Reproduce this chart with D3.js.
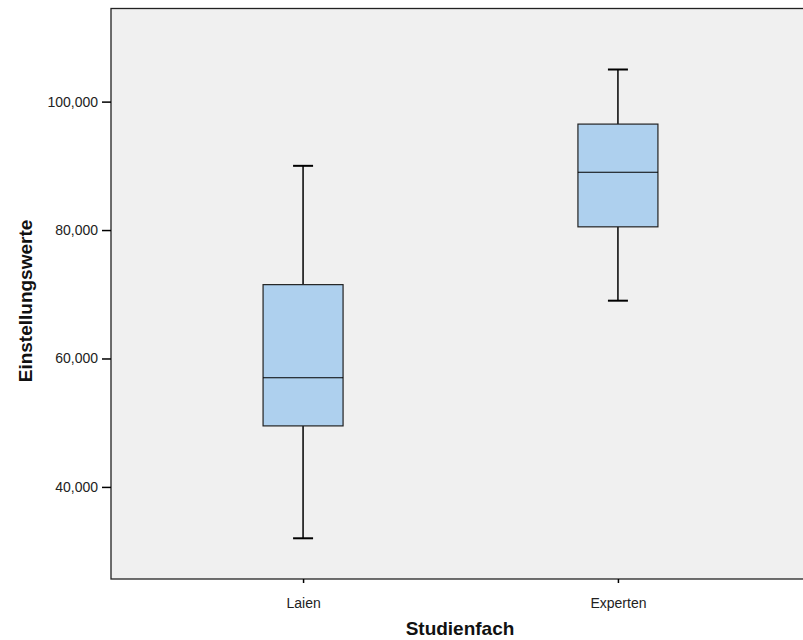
<!DOCTYPE html>
<html><head><meta charset="utf-8">
<script src="https://cdn.jsdelivr.net/npm/d3@7"></script>
<style>body{margin:0;background:#fff}svg{display:block}text{font-family:"Liberation Sans",Arial,sans-serif}</style>
</head><body>
<script>
const categories = ["Laien", "Experten"];
const whiskerLow = [32, 69];
const q1 = [49.5, 80.5];
const median = [57, 89];
const q3 = [71.5, 96.5];
const whiskerHigh = [90, 105];
const yTicks = [40, 60, 80, 100];
const yTickLabels = ["40,000", "60,000", "80,000", "100,000"];
const yTitle = "Einstellungswerte";
const xTitle = "Studienfach";

(function () {
const W = 803, H = 640;
const pLeft = 111, pTop = 8.5, pBottom = 579, pRight = 810;
const svg = d3.select("body").append("svg").attr("width", W).attr("height", H);

const x = d3.scalePoint().domain(categories).range([pLeft, pRight]).padding(0.61);
const y = d3.scaleLinear().domain([25.66, 114.5]).range([pBottom, pTop]);

svg.append("rect").attr("x", pLeft).attr("y", pTop).attr("width", pRight - pLeft).attr("height", pBottom - pTop)
  .attr("fill", "#f0f0f0").attr("stroke", "#222").attr("stroke-width", 1.3);

const data = categories.map((c, i) => ({c, lo: whiskerLow[i], q1: q1[i], med: median[i], q3: q3[i], hi: whiskerHigh[i]}));
const bw = 80, cw = 20;
const g = svg.append("g");
data.forEach(d => {
  const cx = x(d.c);
  g.append("line").attr("x1", cx).attr("x2", cx).attr("y1", y(d.hi)).attr("y2", y(d.q3)).attr("stroke", "#000").attr("stroke-width", 1.5);
  g.append("line").attr("x1", cx).attr("x2", cx).attr("y1", y(d.q1)).attr("y2", y(d.lo)).attr("stroke", "#000").attr("stroke-width", 1.5);
  g.append("line").attr("x1", cx - cw/2).attr("x2", cx + cw/2).attr("y1", y(d.hi)).attr("y2", y(d.hi)).attr("stroke", "#000").attr("stroke-width", 2);
  g.append("line").attr("x1", cx - cw/2).attr("x2", cx + cw/2).attr("y1", y(d.lo)).attr("y2", y(d.lo)).attr("stroke", "#000").attr("stroke-width", 2);
  g.append("rect").attr("x", cx - bw/2).attr("y", y(d.q3)).attr("width", bw).attr("height", y(d.q1) - y(d.q3))
    .attr("fill", "#aed0ee").attr("stroke", "#222").attr("stroke-width", 1.2);
  g.append("line").attr("x1", cx - bw/2).attr("x2", cx + bw/2).attr("y1", y(d.med)).attr("y2", y(d.med)).attr("stroke", "#000").attr("stroke-width", 1.2);
});

const font = '"Liberation Sans",Arial,sans-serif';
const yAxis = d3.axisLeft(y).tickValues(yTicks).tickFormat((d, i) => yTickLabels[i]).tickSize(9).tickPadding(4);
const ya = svg.append("g").attr("transform", `translate(${pLeft},0)`).call(yAxis);
ya.select(".domain").remove();
ya.selectAll("line").attr("stroke", "#000").attr("stroke-width", 1.5);
ya.selectAll("text").attr("font-size", 14).attr("fill", "#222").style("font-family", font);

const xAxis = d3.axisBottom(x).tickSize(4).tickPadding(15);
const xa = svg.append("g").attr("transform", `translate(0,${pBottom})`).call(xAxis);
xa.select(".domain").remove();
xa.selectAll("line").attr("stroke", "#000").attr("stroke-width", 1.5);
xa.selectAll("text").attr("font-size", 14).attr("fill", "#222").style("font-family", font);

svg.append("text").attr("x", 460).attr("y", 635).attr("text-anchor", "middle").attr("font-size", 19).attr("font-weight", "bold").attr("fill", "#111").text(xTitle);
svg.append("text").attr("transform", `translate(32,301) rotate(-90)`).attr("text-anchor", "middle")
  .attr("font-size", 19).attr("font-weight", "bold").attr("fill", "#111").text(yTitle);
})();
</script>
</body></html>
